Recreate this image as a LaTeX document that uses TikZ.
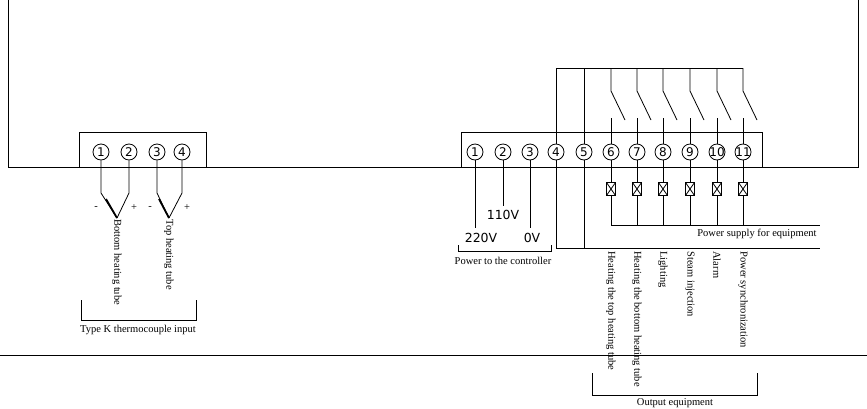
\documentclass[tikz,border=0pt]{standalone}
\usepackage{fontspec}
\setmainfont{Liberation Serif}
\newfontfamily\numfont{DejaVu Sans}
\begin{document}
\begin{tikzpicture}[x=1pt,y=-1pt,line width=0.8pt,
  term/.style={circle,draw,inner sep=0pt,minimum size=16,font=\numfont\fontsize{12}{12}\selectfont},
  lbl/.style={font=\fontsize{10.5}{11}\selectfont,inner sep=1pt},
  vlbl/.style={font=\fontsize{10.5}{11}\selectfont,inner sep=1pt,rotate=-90,anchor=west},
  volt/.style={font=\numfont\fontsize{12.5}{12}\selectfont,inner sep=1pt},
  coil/.style={draw,minimum width=9,minimum height=13,inner sep=0pt,path picture={\draw (path picture bounding box.south west)--(path picture bounding box.north east) (path picture bounding box.north west)--(path picture bounding box.south east);}}]
\useasboundingbox (0,0) rectangle (867,408);
% frame
\draw (8,0) -- (8,167) -- (858,167) -- (858,0);
\draw (0,355) -- (867,355);
% terminal boxes
\draw (79,167) -- (79,132) -- (206,132) -- (206,167);
\draw (461,167) -- (461,132) -- (762,132) -- (762,167);
% left terminals
\foreach \i/\x in {1/101,2/129,3/157,4/182} \node[term] (L\i) at (\x,152) {\i};
% right terminals
\foreach \i/\x in {1/475,2/503,3/530,4/556,5/584,6/611,7/637,8/663,9/690,10/717,11/743} \node[term] (R\i) at (\x,152) {\ifnum\i>9 \kern-3pt\i\kern-3pt\else\i\fi};
% thermocouples
\coordinate (tb) at (117,218);
\coordinate (tt) at (169,218);
\draw (L1) -- (101,193) -- (tb);
\draw (L2) -- (129,193) -- (tb);
\draw[line width=1.8pt] (106,199) -- (tb);
\draw (L3) -- (157,193) -- (tt);
\draw (L4) -- (182,193) -- (tt);
\draw[line width=1.8pt] (159,199) -- (tt);
\node[lbl] (m1) at (96,208) {-};
\node[lbl] (p1) at (134,208) {+};
\node[lbl] (m2) at (150,208) {-};
\node[lbl] (p2) at (187,208) {+};
\node[vlbl] (bt) at (tb) {Bottom heating tube};
\node[vlbl] (tht) at (tt) {Top heating tube};
\draw (81,300) -- (81,320) -- (196,320) -- (196,300);
\node[lbl] (tk) at (138,330) {Type K thermocouple input};
% power
\draw (R1) -- (475,228);
\draw (R2) -- (503,206);
\draw (R3) -- (530,228);
\node[volt] (v110) at (503,215) {110V};
\node[volt] (v220) at (481,238) {220V};
\node[volt] (v0) at (532,238) {0V};
\draw (458,245) -- (458,251) -- (551,251) -- (551,245);
\node[lbl] (ptc) at (503,261) {Power to the controller};
% common bus
\draw (R4.north) -- (556,68) -- (743,68);
\draw (R5.north) -- (584,68);
\draw (R4) -- (556,248) -- (820,248);
\draw (R5) -- (584,248);
% relays
\foreach \i/\x in {6/611,7/637,8/663,9/690,10/717,11/743}{
  \draw (\x,68) -- (\x,91) -- (\x+14,120);
  \draw (R\i.north) -- (\x,118);
  \node[coil] (C\i) at (\x,189) {};
  \draw (R\i) -- (C\i);
  \draw (C\i) -- (\x,225);
}
\draw (611,225) -- (820,225);
\node[lbl,anchor=east] (psu) at (818,234) {Power supply for equipment};
\foreach \x/\t in {611/Heating the top heating tube,637/Heating the bottom heating tube,663/Lighting,690/Steam injection,717/Alarm,743/Power synchronization}
  \node[vlbl] at (\x,250) {\t};
\draw (592,373) -- (592,395) -- (757,395) -- (757,373);
\node[lbl] (oe) at (675,403) {Output equipment};
\end{tikzpicture}
\end{document}
